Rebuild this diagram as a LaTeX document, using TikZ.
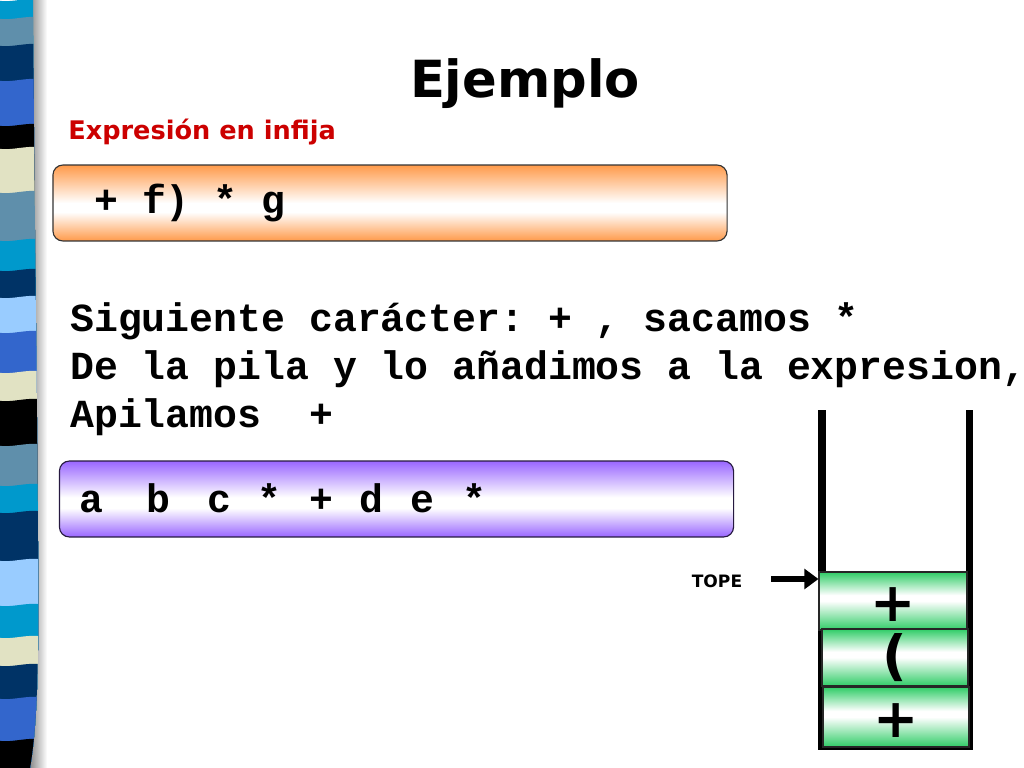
\documentclass[tikz,border=0pt]{standalone}
\usepackage{fontspec}
\setmainfont{DejaVu Sans}
\newfontfamily\cour{Liberation Mono}
\usetikzlibrary{arrows.meta}
\frenchspacing
\definecolor{orng}{HTML}{FF9A4A}
\definecolor{purp}{HTML}{9966FF}
\definecolor{grn}{HTML}{2FCC66}
\definecolor{redtxt}{HTML}{CC0000}
\definecolor{cy}{HTML}{0099CC}
\definecolor{st}{HTML}{5F8FAB}
\definecolor{nv}{HTML}{003366}
\definecolor{ry}{HTML}{3366CC}
\definecolor{bk}{HTML}{000000}
\definecolor{cr}{HTML}{E1E2C3}
\definecolor{lb}{HTML}{99CCFF}
\pgfdeclareverticalshading{orangesh}{100bp}{color(0bp)=(orng); color(25bp)=(orng); color(44bp)=(white); color(50bp)=(white); color(75bp)=(orng); color(100bp)=(orng)}
\pgfdeclareverticalshading{purplesh}{100bp}{color(0bp)=(purp); color(25bp)=(purp); color(44bp)=(white); color(51bp)=(white); color(75bp)=(purp); color(100bp)=(purp)}
\pgfdeclareverticalshading{greensh}{100bp}{color(0bp)=(grn); color(25bp)=(grn); color(50bp)=(white); color(55bp)=(white); color(75bp)=(grn); color(100bp)=(grn)}
\tikzset{
  mono/.style={font=\cour\bfseries\fontsize{28}{30}\selectfont, inner sep=0pt},
  exprbox/.style={rounded corners=7pt, draw=black!80, line width=0.8pt, minimum width=474pt, minimum height=53.4pt, inner sep=0pt},
  cell/.style={draw=black!85, line width=0.8pt, shading=greensh, inner sep=0pt, minimum height=41pt},
  cellch/.style={font=\bfseries\fontsize{38}{42}\selectfont, inner sep=0pt},
  wall/.style={line width=5.6pt},
}
\begin{document}
\begin{tikzpicture}[x=0.703125pt,y=-0.703125pt]
\useasboundingbox (0,0) rectangle (1024,768);
\fill[white] (0,0) rectangle (1024,768);
% left shadow
\shade[left color=black!45, right color=white] (30,0) rectangle (47,768);
% striped band
\begin{scope}
\clip (0,0) -- (33,0) .. controls (35,300) and (39,500) .. (38,650) .. controls (37,720) and (33,750) .. (30,768) -- (0,768) -- cycle;
\foreach \yy/\cc in {0/cy,18/st,45/nv,80/ry,125/bk,148/cr,192/st,240/cy,270/nv,297/lb,332/ry,372/cr,400/bk,445/st,485/cy,512/nv,560/lb,605/cy,637/cr,665/nv,698/ry,740/bk}{
  \fill[\cc] (-5,\yy) .. controls (12,\yy+4) and (26,\yy-4) .. (45,\yy) -- (45,780) -- (-5,780) -- cycle;
}
\end{scope}
% title
\node[font=\bfseries\fontsize{36}{40}\selectfont, anchor=base, inner sep=0pt] (title) at (525,98) {Ejemplo};
\node[font=\bfseries\fontsize{18}{20}\selectfont, text=redtxt, anchor=base west, inner sep=0pt] (sub) at (68,140) {Expresión en infija};
% infix box
\node[exprbox, shading=orangesh] (infix) at (390,203) {};
\node[mono, anchor=base west] (infixtxt) at (94,214) {+ f) * g};
% explanation
\node[mono, anchor=base west] (l1) at (70,331) {Siguiente carácter: + , sacamos *};
\node[mono, anchor=base west] (l2) at (70,379) {De la pila y lo añadimos a la expresion,};
\node[mono, anchor=base west] (l3) at (70,427) {Apilamos\ \ +};
% postfix box
\node[exprbox, shading=purplesh, draw=black!75!purp] (postfix) at (396.5,499) {};
\foreach \ch/\xx [count=\i] in {a/91,b/158,c/219,*/269,+/321,d/371,e/422,*/474}{
  \node[mono, anchor=base] (pf\i) at (\xx,512) {\ch};
}
% stack walls
\draw[wall] (822,410) -- (822,749);
\draw[wall] (969.5,410) -- (969.5,749);
\draw[line width=2.8pt] (818,748) -- (973,748);
% stack cells
\node[cell, minimum width=104pt, minimum height=40.8pt] (c1) at (893,601) {};
\node[cell, minimum width=102.7pt, minimum height=40.1pt] (c2) at (895,657.5) {};
\node[cell, minimum width=102.7pt, minimum height=42.2pt] (c3) at (896,717) {};
\node[cellch] (c1t) at (893,605) {+};
\node[cellch] (c2t) at (895,658) {(};
\node[cellch] (c3t) at (896,721) {+};
% tope
\node[font=\bfseries\fontsize{12}{14}\selectfont, inner sep=0pt] (tope) at (717,581) {TOPE};
\coordinate (arrstart) at (771,579);
\draw[line width=4.2pt, -{Triangle[length=10pt, width=14pt]}] (arrstart) -- (arrstart -| c1.west);
\end{tikzpicture}
\end{document}
